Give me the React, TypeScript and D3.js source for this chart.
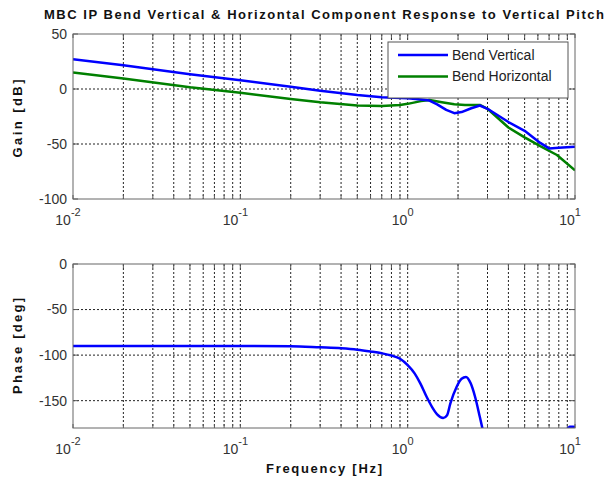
import React from "react";
import * as d3 from "d3";

const title = "MBC IP Bend Vertical & Horizontal Component Response to Vertical Pitch";
const gainFreq = [0.01, 0.02, 0.05, 0.1, 0.2, 0.3, 0.5, 0.7, 1.0, 1.2, 1.35, 1.5, 1.7, 1.9, 2.1, 2.4, 2.7, 3.0, 4.0, 5.0, 6.2, 7.0, 8.0, 10];
const gainVertical = [27, 21.5, 13.5, 8, 2, -1.5, -5.5, -7.5, -8.5, -9.5, -10.5, -14, -19, -22, -21, -17.5, -15, -18, -30, -38, -49, -54, -53.5, -52.5];
const horizFreq = [0.01, 0.02, 0.05, 0.1, 0.2, 0.3, 0.5, 0.7, 0.9, 1.0, 1.2, 1.35, 1.6, 1.9, 2.2, 2.7, 3.0, 4.0, 5.0, 6.2, 7.8, 10];
const gainHorizontal = [15, 9.5, 1.5, -3.5, -9, -12, -15, -15.5, -14.5, -13.5, -11, -10, -12, -13.8, -14.5, -14.5, -18, -35, -44, -52, -60, -74];
const phaseFreq = [0.01, 0.1, 0.2, 0.3, 0.4, 0.5, 0.6, 0.7, 0.8, 0.9, 1.0, 1.1, 1.19, 1.3, 1.4, 1.5, 1.63, 1.72, 1.8, 1.96, 2.1, 2.23, 2.38, 2.53, 2.7, 2.81];
const phaseVertical = [-90, -90, -90.3, -91.5, -92.5, -94, -96, -98, -100.5, -104, -111, -120, -131, -146, -157, -165, -169, -166, -153, -135, -126, -124, -131, -146, -168, -182];
const phaseTailFreq = [9.0, 9.3, 9.7, 10];
const phaseTail = [-181, -178.5, -178.5, -179];

const decades = [-2, -1, 0, 1];
const gainTicks = [50, 0, -50, -100];
const phaseTicks = [0, -50, -100, -150];
const legendLabels = ["Bend Vertical", "Bend Horizontal"];
const colors = ["#0000ff", "#008000"];

const L = 73, R = 575;
const font = "'Liberation Sans', Arial, Helvetica, sans-serif";

function Panel({ top, bottom, domain, ticks, label, labelLen, labelShift, children, clipId }: any) {
  const x = d3.scaleLog().domain([0.01, 10]).range([L, R]);
  const y = d3.scaleLinear().domain(domain).range([bottom, top]);
  const minor: number[] = [];
  for (let e = -2; e < 1; e++) for (let k = 1; k <= 9; k++) minor.push(k * Math.pow(10, e));
  minor.push(10);
  return (
    <g>
      <defs>
        <clipPath id={clipId}>
          <rect x={L} y={top} width={R - L} height={bottom - top} />
        </clipPath>
      </defs>
      <rect x={L} y={top} width={R - L} height={bottom - top} fill="#fff" />
      {minor.filter((v) => v > 0.0100001 && v < 9.99).map((v, i) => (
        <line key={"gx" + i} x1={x(v)} x2={x(v)} y1={top} y2={bottom} stroke="#222" strokeWidth={1} strokeDasharray="2,2" />
      ))}
      {ticks.filter((t: number) => t < domain[1] && t > domain[0]).map((t: number) => (
        <line key={"gy" + t} x1={L} x2={R} y1={y(t)} y2={y(t)} stroke="#222" strokeWidth={1} strokeDasharray="2,2" />
      ))}
      {minor.map((v, i) => (
        <g key={"tk" + i}>
          <line x1={x(v)} x2={x(v)} y1={top} y2={top + 4} stroke="#555" />
          <line x1={x(v)} x2={x(v)} y1={bottom} y2={bottom - 4} stroke="#555" />
        </g>
      ))}
      {ticks.map((t: number) => (
        <g key={"ty" + t}>
          <line x1={L} x2={L + 5} y1={y(t)} y2={y(t)} stroke="#555" />
          <line x1={R} x2={R - 5} y1={y(t)} y2={y(t)} stroke="#555" />
          <text x={L - 6} y={y(t)} dy="0.35em" textAnchor="end" fontSize={14} fill="#333" fontFamily={font}>{t}</text>
        </g>
      ))}
      <g clipPath={`url(#${clipId})`}>{children(x, y)}</g>
      <rect x={L} y={top} width={R - L} height={bottom - top} fill="none" stroke="#666" strokeWidth={1} />
      {decades.map((e) => (
        <text key={"xl" + e} x={x(Math.pow(10, e)) - 5} y={bottom + 26} textAnchor="middle" fontSize={14} fill="#333" fontFamily={font}>
          10<tspan dy={-9} fontSize={11}>{e}</tspan>
        </text>
      ))}
      <text transform={`translate(22,${(top + bottom) / 2 + labelShift}) rotate(-90)`} textAnchor="middle" fontSize={13} fontWeight="bold" fontFamily={font} fill="#111" textLength={labelLen} lengthAdjust="spacing">{label}</text>
    </g>
  );
}

export default function App() {
  const line = (xs: number[], ys: number[], x: any, y: any) =>
    d3.line<number>().x((_, i) => x(xs[i])).y((v) => y(v))(ys) || "";
  return (
    <svg width={612} height={483} style={{ position: "absolute", left: 0, top: 0, background: "#fff" }}>
      <rect width={612} height={483} fill="#fff" />
      <text x={324} y={19} textAnchor="middle" fontSize={13} fontWeight="bold" fontFamily={font} fill="#111" textLength={560} lengthAdjust="spacing">{title}</text>
      <Panel top={34} bottom={199} domain={[-100, 50]} ticks={gainTicks} label="Gain [dB]" labelLen={78} labelShift={2} clipId="c1">
        {(x: any, y: any) => (
          <g fill="none" strokeWidth={2.5} strokeLinejoin="round">
            <path d={line(horizFreq, gainHorizontal, x, y)} stroke={colors[1]} />
            <path d={line(gainFreq, gainVertical, x, y)} stroke={colors[0]} />
          </g>
        )}
      </Panel>
      <g>
        <rect x={388} y={42} width={180} height={56} fill="#fff" stroke="#555" />
        {legendLabels.map((l, i) => (
          <g key={l}>
            <line x1={398} x2={448} y1={55 + i * 21.5} y2={55 + i * 21.5} stroke={colors[i]} strokeWidth={2.5} />
            <text x={452} y={55 + i * 21.5} dy="0.35em" fontSize={14} fill="#222" fontFamily={font}>{l}</text>
          </g>
        ))}
      </g>
      <Panel top={264} bottom={428} domain={[-180, 0]} ticks={phaseTicks} label="Phase [deg]" labelLen={96} labelShift={0} clipId="c2">
        {(x: any, y: any) => (
          <g fill="none" strokeWidth={2.5} strokeLinejoin="round">
            <path d={d3.line<number>().x((_, i) => x(phaseFreq[i])).y((v) => y(v)).curve(d3.curveMonotoneX)(phaseVertical) || ""} stroke={colors[0]} />
            <path d={line(phaseTailFreq, phaseTail, x, y)} stroke={colors[0]} />
          </g>
        )}
      </Panel>
      <text x={324} y={473} textAnchor="middle" fontSize={13} fontWeight="bold" fontFamily={font} fill="#111" textLength={116} lengthAdjust="spacing">Frequency [Hz]</text>
    </svg>
  );
}
